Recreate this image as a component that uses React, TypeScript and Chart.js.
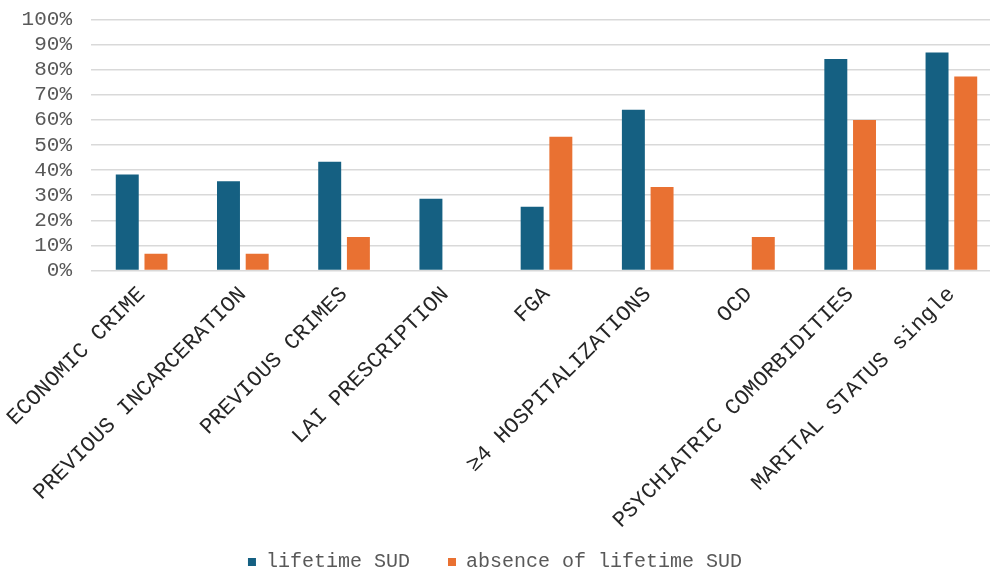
import React, { useEffect, useRef } from "react";
import { Chart, registerables } from "chart.js";

Chart.register(...registerables);

const categories = [
  "ECONOMIC CRIME",
  "PREVIOUS INCARCERATION",
  "PREVIOUS CRIMES",
  "LAI PRESCRIPTION",
  "FGA",
  "≥4 HOSPITALIZATIONS",
  "OCD",
  "PSYCHIATRIC COMORBIDITIES",
  "MARITAL STATUS single",
];
const lifetimeSUD = [38.2, 35.6, 43.3, 28.6, 25.4, 64.0, 0, 84.3, 86.9];
const absenceSUD = [6.7, 6.7, 13.3, 0, 53.3, 33.3, 13.3, 60.0, 77.3];
const seriesNames = ["lifetime SUD", "absence of lifetime SUD"];

export default function App() {
  const ref = useRef<HTMLCanvasElement | null>(null);
  useEffect(() => {
    if (!ref.current) return;
    const chart = new Chart(ref.current, {
      type: "bar",
      data: {
        labels: categories,
        datasets: [
          {
            label: seriesNames[0],
            data: lifetimeSUD,
            backgroundColor: "#156082",
            barPercentage: 0.8,
            categoryPercentage: 0.567,
          },
          {
            label: seriesNames[1],
            data: absenceSUD,
            backgroundColor: "#E97132",
            barPercentage: 0.8,
            categoryPercentage: 0.567,
          },
        ],
      },
      options: {
        responsive: false,
        animation: false,
        layout: { padding: { left: 0, top: 19.5, right: 0, bottom: 0 } },
        plugins: {
          tooltip: { enabled: false },
          legend: {
            position: "bottom",
            labels: {
              boxWidth: 8,
              boxHeight: 8,
              padding: 14,
              color: "#595959",
              font: { family: "'Liberation Mono', monospace", size: 20 },
              generateLabels: (c: any) => {
                const items = Chart.defaults.plugins.legend.labels.generateLabels(c);
                items.forEach((it: any, i: number) => {
                  it.lineWidth = 0;
                  it.text = it.text + (i === 0 ? "  " : " ");
                });
                return items;
              },
            },
          },
        },
        scales: {
          x: {
            grid: { display: false },
            border: { display: false },
            ticks: {
              maxRotation: 45,
              minRotation: 45,
              autoSkip: false,
              padding: 3,
              color: "#262626",
              font: { family: "'Liberation Mono', monospace", size: 22 },
            },
            afterFit: (s: any) => {
              s.height = 267.5;
              s.paddingLeft = 0;
              s.paddingRight = 0;
              s.paddingTop = 0;
              s.paddingBottom = 0;
            },
          },
          y: {
            min: 0,
            max: 100,
            border: { display: false },
            grid: { color: "#d9d9d9", lineWidth: 1.5, drawTicks: false },
            ticks: {
              stepSize: 10,
              autoSkip: false,
              padding: 19,
              color: "#595959",
              font: { family: "'Liberation Mono', monospace", size: 21 },
              callback: (v: any) => `${v}%`,
            },
            afterFit: (s: any) => {
              s.width = 91;
              s.paddingLeft = 0;
              s.paddingRight = 0;
              s.paddingTop = 0;
              s.paddingBottom = 0;
            },
          },
        },
      },
    });
    return () => chart.destroy();
  }, []);
  return (
    <div
      style={{
        position: "absolute",
        left: 0,
        top: 0,
        width: 990,
        height: 574,
        overflow: "hidden",
        background: "#fff",
      }}
    >
      <canvas ref={ref} width={1002} height={582} style={{ display: "block" }} />
    </div>
  );
}
